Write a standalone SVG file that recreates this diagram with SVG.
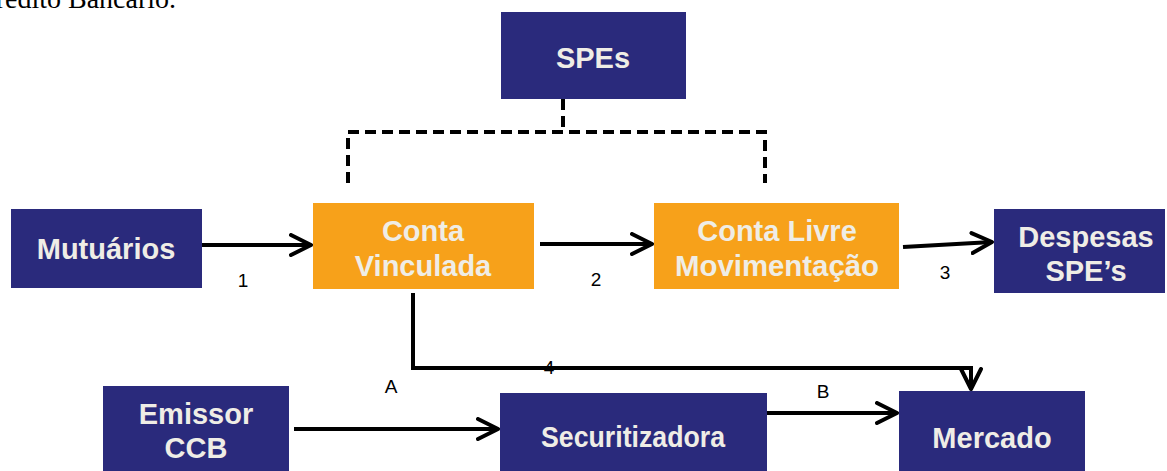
<svg xmlns="http://www.w3.org/2000/svg" width="1167" height="471" viewBox="0 0 1167 471">
<style>
.navy{fill:#2a2a7c}
.orange{fill:#f7a11a}
.lbl{font-family:"Liberation Sans",Arial,sans-serif;font-weight:bold;font-size:29px;fill:#efede6;text-anchor:middle}
.num{font-family:"Liberation Sans",Arial,sans-serif;font-size:19px;fill:#000;text-anchor:middle}
.conn{stroke:#000;stroke-width:4;fill:none}
.dash{stroke:#000;stroke-width:4;fill:none;stroke-dasharray:11 6}
</style>
<defs>
<marker id="arr" viewBox="0 0 12 12" refX="11" refY="6" markerWidth="6" markerHeight="6" markerUnits="strokeWidth" orient="auto">
<path d="M1,1 L11,6 L1,11" fill="none" stroke="#000" stroke-width="2" stroke-linecap="round" stroke-linejoin="round"/>
</marker>
</defs>
<text x="-23" y="8" font-family="Liberation Serif,'Times New Roman',serif" font-size="28" fill="#000">Crédito Bancário.</text>
<g id="SPEs"><rect class="navy" x="501" y="12" width="185" height="87"/><text class="lbl" x="593" y="68">SPEs</text></g>
<g id="Mutuarios"><rect class="navy" x="11" y="209" width="191" height="79"/><text class="lbl" x="106" y="259">Mutuários</text></g>
<g id="ContaVinculada"><rect class="orange" x="313" y="203" width="221" height="86"/><text class="lbl" x="423" y="241">Conta</text><text class="lbl" x="423" y="276">Vinculada</text></g>
<g id="ContaLivre"><rect class="orange" x="654" y="203" width="245" height="86"/><text class="lbl" x="777" y="241">Conta Livre</text><text class="lbl" x="777" y="276" textLength="204" lengthAdjust="spacingAndGlyphs">Movimentação</text></g>
<g id="Despesas"><rect class="navy" x="994" y="209" width="171" height="84"/><text class="lbl" x="1086" y="247">Despesas</text><text class="lbl" x="1086" y="281">SPE’s</text></g>
<g id="Emissor"><rect class="navy" x="103" y="386" width="186" height="85"/><text class="lbl" x="196" y="424">Emissor</text><text class="lbl" x="196" y="458">CCB</text></g>
<g id="Securitizadora"><rect class="navy" x="500" y="393" width="267" height="78"/><text class="lbl" x="633" y="447" textLength="184" lengthAdjust="spacingAndGlyphs">Securitizadora</text></g>
<g id="Mercado"><rect class="navy" x="899" y="391" width="186" height="80"/><text class="lbl" x="992" y="448">Mercado</text></g>
<g id="connectors">
<path class="dash" d="M563,99 V131"/>
<path class="dash" d="M348,183 V132 H765 V183"/>
<path class="conn" d="M202,245 H311" marker-end="url(#arr)"/>
<path class="conn" d="M540,244 H652" marker-end="url(#arr)"/>
<path class="conn" d="M903,247 L992,242" marker-end="url(#arr)"/>
<path class="conn" d="M413,293 V368 H971 V389" marker-end="url(#arr)"/>
<path class="conn" d="M294,429 H498" marker-end="url(#arr)"/>
<path class="conn" d="M767,413 H897" marker-end="url(#arr)"/>
<text class="num" x="243" y="287">1</text>
<text class="num" x="596" y="286">2</text>
<text class="num" x="945" y="279">3</text>
<text class="num" x="549" y="374">4</text>
<text class="num" x="391" y="393">A</text>
<text class="num" x="823" y="398">B</text>
</g>
</svg>
